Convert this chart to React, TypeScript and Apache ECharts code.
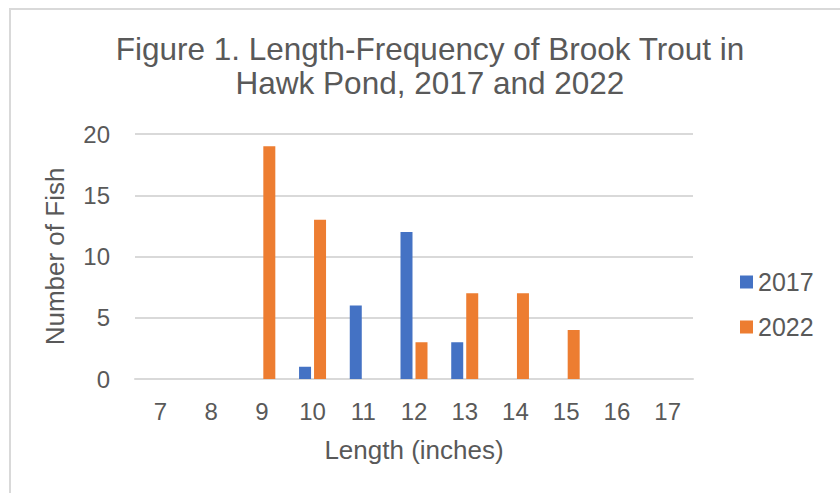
import React, { useEffect, useRef } from "react";
import * as echarts from "echarts";

const categories = ["7", "8", "9", "10", "11", "12", "13", "14", "15", "16", "17"];
const values2017 = [0, 0, 0, 1, 6, 12, 3, 0, 0, 0, 0];
const values2022 = [0, 0, 19, 13, 0, 3, 7, 7, 4, 0, 0];
const seriesNames = ["2017", "2022"];
const titleText = "Figure 1. Length-Frequency of Brook Trout in\nHawk Pond, 2017 and 2022";
const xName = "Length (inches)";
const yName = "Number of Fish";

const FONT = "'Liberation Sans', Arial, sans-serif";
const TEXT = "#595959";
const GRIDC = "#d9d9d9";

export default function App() {
  const ref = useRef<HTMLDivElement>(null);
  useEffect(() => {
    document.body.style.margin = "0";
    const chart = echarts.init(ref.current!, null, { renderer: "svg" });
    chart.setOption({
      animation: false,
      backgroundColor: "#ffffff",
      graphic: [
        {
          type: "rect",
          shape: { x: 10, y: 9, width: 1000, height: 700 },
          style: { fill: "none", stroke: GRIDC, lineWidth: 2 },
          silent: true,
        },
      ],
      title: {
        text: titleText,
        left: 425,
        textAlign: "center",
        top: 27,
        textStyle: {
          fontFamily: FONT,
          fontSize: 31.5,
          fontWeight: "normal",
          color: TEXT,
          lineHeight: 34,
        },
      },
      legend: {
        orient: "vertical",
        left: 735,
        top: 263,
        itemWidth: 13,
        itemHeight: 13,
        itemGap: 17,
        icon: "rect",
        textStyle: { fontFamily: FONT, fontSize: 25, color: TEXT, lineHeight: 28 },
        data: seriesNames,
      },
      grid: { left: 135, right: 147, top: 134, bottom: 114, containLabel: false },
      xAxis: {
        type: "category",
        data: categories,
        name: xName,
        nameLocation: "middle",
        nameGap: 58,
        nameTextStyle: { fontFamily: FONT, fontSize: 26, color: TEXT },
        axisLine: { show: true, lineStyle: { color: GRIDC, width: 2 } },
        axisTick: { show: false },
        axisLabel: { fontFamily: FONT, fontSize: 24, color: TEXT, margin: 20 },
      },
      yAxis: {
        type: "value",
        min: 0,
        max: 20,
        interval: 5,
        name: yName,
        nameLocation: "middle",
        nameGap: 67,
        nameTextStyle: { fontFamily: FONT, fontSize: 26, color: TEXT },
        axisLine: { show: false },
        axisTick: { show: false },
        axisLabel: { fontFamily: FONT, fontSize: 24, color: TEXT, margin: 25 },
        splitLine: { lineStyle: { color: GRIDC, width: 2 } },
      },
      series: [
        {
          name: seriesNames[0],
          type: "bar",
          data: values2017,
          barWidth: 12,
          barGap: "25%",
          itemStyle: { color: "#4472C4" },
        },
        {
          name: seriesNames[1],
          type: "bar",
          data: values2022,
          barWidth: 12,
          barGap: "25%",
          itemStyle: { color: "#ED7D31" },
        },
      ],
    });
    return () => chart.dispose();
  }, []);
  return (
    <div
      ref={ref}
      style={{ position: "fixed", left: 0, top: 0, width: 840, height: 493 }}
    />
  );
}
